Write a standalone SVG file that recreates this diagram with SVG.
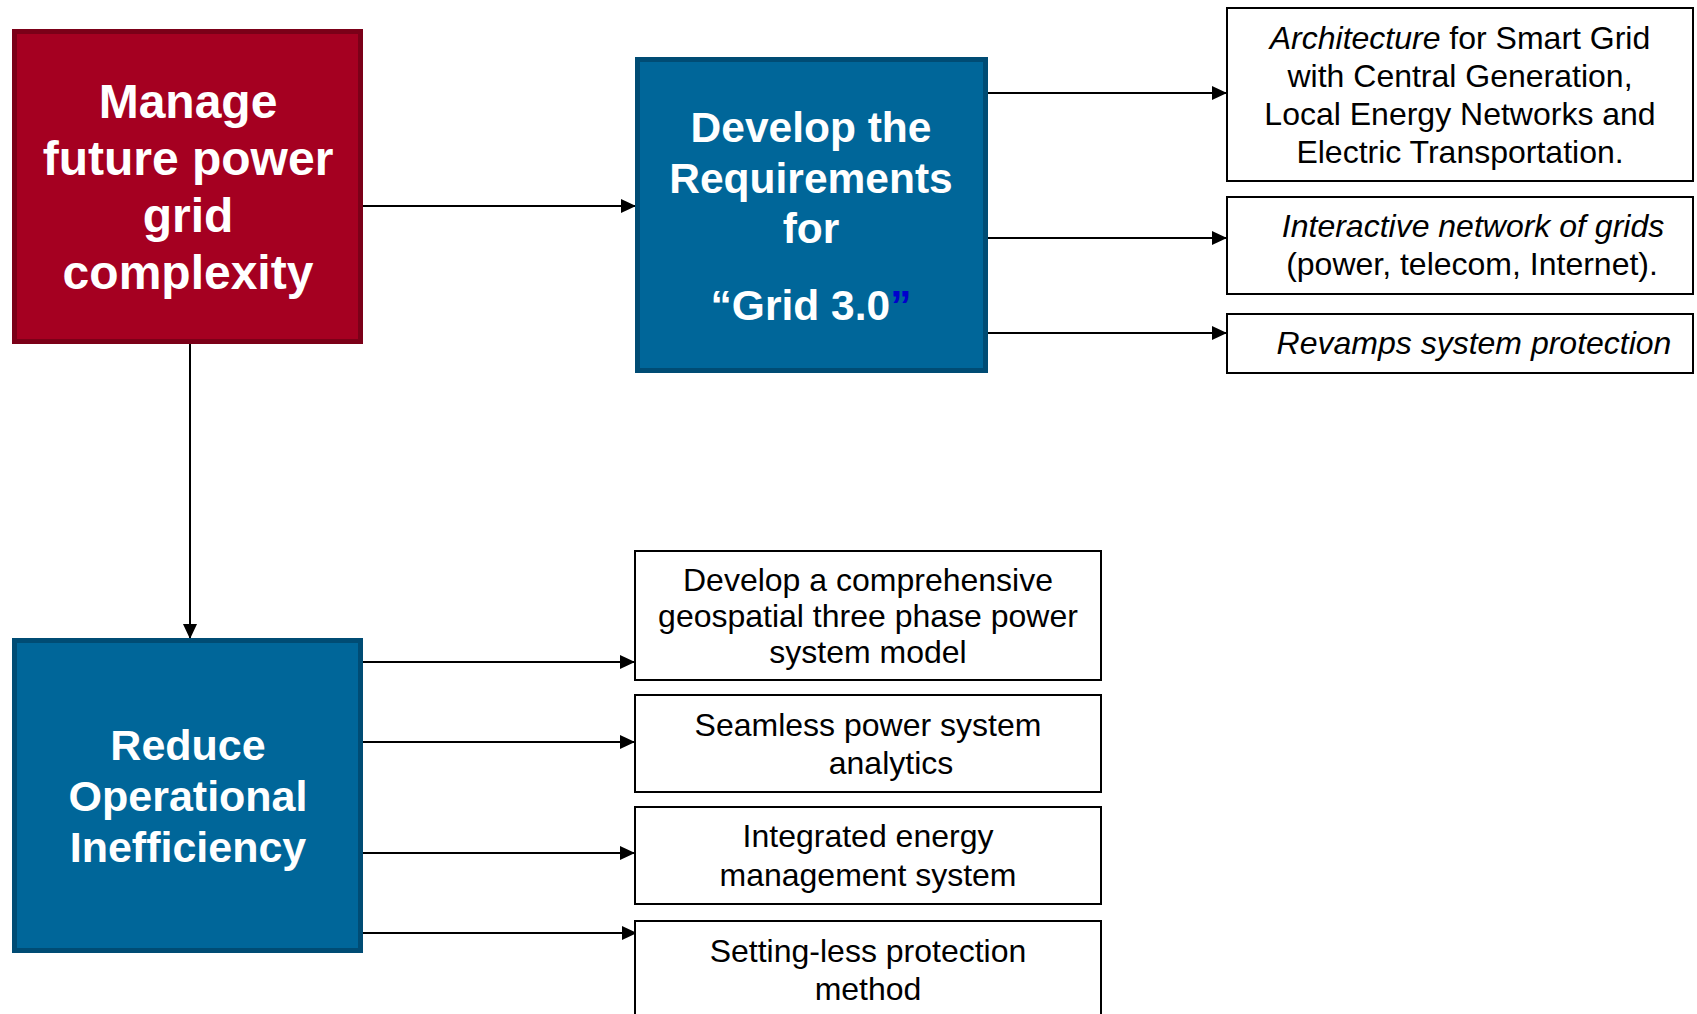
<svg xmlns="http://www.w3.org/2000/svg" width="1697" height="1014" viewBox="0 0 1697 1014">
<defs>
<marker id="ah" markerUnits="userSpaceOnUse" markerWidth="16" markerHeight="14" refX="15" refY="7" orient="auto">
<path d="M0,0 L15,7 L0,14 Z" fill="#000"/>
</marker>
<style>
.red{fill:#a50021;stroke:#7b0018;stroke-width:5}
.blue{fill:#006699;stroke:#004c74;stroke-width:5}
.box{fill:#fff;stroke:#000;stroke-width:2}
.big{font-family:"Liberation Sans",Arial,sans-serif;font-weight:bold;fill:#fff;text-anchor:middle}
.sm{font-family:"Liberation Sans",Arial,sans-serif;font-size:32px;fill:#000;text-anchor:middle}
.conn{stroke:#000;stroke-width:2;fill:none;marker-end:url(#ah)}
</style>
</defs>
<rect width="1697" height="1014" fill="#fff"/>
<g id="connectors">
<line class="conn" x1="363" y1="206" x2="636" y2="206"/>
<line class="conn" x1="190" y1="344" x2="190" y2="639"/>
<line class="conn" x1="988" y1="93" x2="1227" y2="93"/>
<line class="conn" x1="988" y1="238" x2="1227" y2="238"/>
<line class="conn" x1="988" y1="333" x2="1227" y2="333"/>
<line class="conn" x1="363" y1="662" x2="635" y2="662"/>
<line class="conn" x1="363" y1="742" x2="635" y2="742"/>
<line class="conn" x1="363" y1="853" x2="635" y2="853"/>
<line class="conn" x1="363" y1="933" x2="637" y2="933"/>
</g>
<g id="manage">
<rect class="red" x="14.5" y="31.5" width="346" height="310"/>
<text class="big" font-size="48" x="188"><tspan x="188" y="118">Manage</tspan><tspan x="188" y="175">future power</tspan><tspan x="188" y="232">grid</tspan><tspan x="188" y="289">complexity</tspan></text>
</g>
<g id="develop">
<rect class="blue" x="637.5" y="59.5" width="348" height="311"/>
<text class="big" font-size="42.5" x="811"><tspan x="811" y="142">Develop the</tspan><tspan x="811" y="193">Requirements</tspan><tspan x="811" y="243">for</tspan><tspan x="811" y="320">“Grid 3.0<tspan fill="#0000cc">”</tspan></tspan></text>
</g>
<g id="reduce">
<rect class="blue" x="14.5" y="640.5" width="346" height="310"/>
<text class="big" font-size="43" x="188"><tspan x="188" y="760">Reduce</tspan><tspan x="188" y="811">Operational</tspan><tspan x="188" y="862">Inefficiency</tspan></text>
</g>
<g id="architecture">
<rect class="box" x="1227" y="8" width="466" height="173"/>
<text class="sm"><tspan x="1460" y="49"><tspan font-style="italic">Architecture</tspan> for Smart Grid</tspan><tspan x="1460" y="87">with Central Generation,</tspan><tspan x="1460" y="125">Local Energy Networks and</tspan><tspan x="1460" y="163">Electric Transportation.</tspan></text>
</g>
<g id="interactive">
<rect class="box" x="1227" y="197" width="466" height="97"/>
<text class="sm"><tspan x="1473" y="237" font-style="italic">Interactive network of grids</tspan><tspan x="1472" y="275">(power, telecom, Internet).</tspan></text>
</g>
<g id="revamps">
<rect class="box" x="1227" y="314" width="466" height="59"/>
<text class="sm" font-style="italic" x="1474" y="354">Revamps system protection</text>
</g>
<g id="geospatial">
<rect class="box" x="635" y="551" width="466" height="129"/>
<text class="sm"><tspan x="868" y="591">Develop a comprehensive</tspan><tspan x="868" y="627">geospatial three phase power</tspan><tspan x="868" y="663">system model</tspan></text>
</g>
<g id="analytics">
<rect class="box" x="635" y="695" width="466" height="97"/>
<text class="sm"><tspan x="868" y="736">Seamless power system</tspan><tspan x="891" y="774">analytics</tspan></text>
</g>
<g id="ems">
<rect class="box" x="635" y="807" width="466" height="97"/>
<text class="sm"><tspan x="868" y="847">Integrated energy</tspan><tspan x="868" y="886">management system</tspan></text>
</g>
<g id="protection">
<rect class="box" x="635" y="921" width="466" height="120"/>
<text class="sm"><tspan x="868" y="962">Setting-less protection</tspan><tspan x="868" y="1000">method</tspan></text>
</g>
</svg>
